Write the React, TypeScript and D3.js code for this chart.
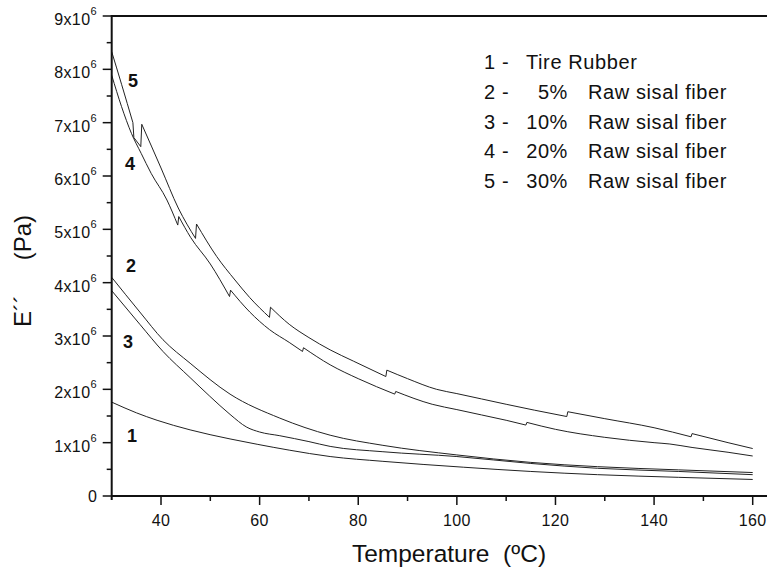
import React from "react";
import * as d3 from "d3";

// ---------- data (E'' in units of 1e6 Pa, temperature in ºC) ----------
const tireRubber: [number, number][] = [
  [30, 1.76], [35, 1.56], [39.2, 1.42], [45.9, 1.24], [54, 1.07], [59.5, 0.97],
  [66, 0.86], [74.3, 0.74], [85, 0.65], [101.3, 0.54], [115, 0.46], [128.5, 0.40],
  [145, 0.35], [160, 0.31],
];
const sisal5: [number, number][] = [
  [30, 4.10], [35.7, 3.45], [40.4, 2.93], [45.9, 2.49], [54, 1.91], [64.1, 1.46],
  [74.3, 1.14], [85, 0.95], [100, 0.77], [115, 0.63], [128.5, 0.55], [145, 0.49],
  [160, 0.44],
];
const sisal10: [number, number][] = [
  [30, 3.85], [35.7, 3.22], [40.4, 2.71], [45.9, 2.22], [49.9, 1.87], [54, 1.53],
  [57.4, 1.29], [60, 1.20], [64.1, 1.13], [70, 1.02], [74.3, 0.93], [85, 0.83],
  [100, 0.74], [115, 0.61], [128.5, 0.52], [145, 0.46], [160, 0.40],
];
const sisal20: [number, number][] = [
  [30, 7.89], [32, 7.30], [34, 6.80], [36, 6.42], [38, 6.05], [41.2, 5.55],
  [43.4, 5.08], [43.6, 5.24], [46, 4.85], [50, 4.35], [53.9, 3.74], [54.1, 3.86],
  [58, 3.45], [62, 3.12], [66, 2.88], [68.7, 2.71], [68.9, 2.78], [74.3, 2.46],
  [80, 2.20], [87.4, 1.91], [87.6, 1.96], [95, 1.72], [100, 1.62], [105, 1.52],
  [110, 1.42], [114, 1.33], [114.2, 1.38], [120, 1.25], [130, 1.10], [140, 1.00],
  [143.2, 0.975], [147.7, 0.91], [155, 0.82], [160, 0.75],
];
const sisal30: [number, number][] = [
  [30, 8.33], [32, 7.72], [34.3, 7.00], [34.5, 6.72], [35.9, 6.55], [36.1, 6.97],
  [40, 6.15], [43.5, 5.40], [47.0, 4.83], [47.2, 5.10], [51.3, 4.49], [55, 4.05],
  [58, 3.72], [62.0, 3.35], [62.2, 3.54], [66, 3.22], [70, 2.97], [74.3, 2.74],
  [79, 2.53], [85.6, 2.24], [85.8, 2.36], [90, 2.20], [95.9, 2.00], [100, 1.92],
  [105, 1.82], [110, 1.72], [115.7, 1.61], [122.3, 1.49], [122.5, 1.58],
  [130, 1.45], [140, 1.28], [147.5, 1.11], [147.7, 1.17], [155, 1.00], [160, 0.89],
];
const allSeries = [tireRubber, sisal5, sisal10, sisal20, sisal30];

// curve number labels: text, temperature, E'' (1e6 Pa)
const curveLabelText = ["5", "4", "2", "3", "1"];
const curveLabelT = [33.3, 32.7, 32.9, 32.3, 33.1];
const curveLabelE = [7.67, 6.11, 4.2, 2.78, 1.01];

const xTicks = [40, 60, 80, 100, 120, 140, 160];
const xMinor = [50, 70, 90, 110, 130, 150];
const yTicks = [0, 1, 2, 3, 4, 5, 6, 7, 8, 9];
const yMinor = [0.5, 1.5, 2.5, 3.5, 4.5, 5.5, 6.5, 7.5, 8.5];

const legendNum = ["1 -", "2 -", "3 -", "4 -", "5 -"];
const legendPct = ["", "5%", "10%", "20%", "30%"];
const legendText = ["Tire Rubber", "Raw sisal fiber", "Raw sisal fiber", "Raw sisal fiber", "Raw sisal fiber"];

const X_DOMAIN: [number, number] = [30, 162.9];
const Y_DOMAIN: [number, number] = [0, 9];

// split a series into smooth pieces at abrupt jumps (points closer than 0.5 ºC)
function splitAtJumps(s: [number, number][]): [number, number][][] {
  const parts: [number, number][][] = [[s[0]]];
  for (let i = 1; i < s.length; i++) {
    if (s[i][0] - s[i - 1][0] < 0.5) parts.push([s[i]]);
    else parts[parts.length - 1].push(s[i]);
  }
  return parts;
}

export default function App() {
  const W = 767, H = 573;
  const left = 111.7, right = 767, top = 16, bottom = 496;
  const x = d3.scaleLinear().domain(X_DOMAIN).range([left, right]);
  const y = d3.scaleLinear().domain(Y_DOMAIN).range([bottom, top]);
  const smooth = d3
    .line<[number, number]>()
    .x((d) => x(d[0]))
    .y((d) => y(d[1]))
    .curve(d3.curveMonotoneX);
  const straight = d3
    .line<[number, number]>()
    .x((d) => x(d[0]))
    .y((d) => y(d[1]));

  const buildPath = (s: [number, number][]) => {
    const parts = splitAtJumps(s);
    let d = "";
    parts.forEach((p, i) => {
      if (p.length > 1) d += smooth(p) || "";
      if (i < parts.length - 1) {
        d += straight([p[p.length - 1], parts[i + 1][0]]) || "";
      }
    });
    return d;
  };

  const font = "'Liberation Sans', Arial, Helvetica, sans-serif";
  const ink = "#111";

  return (
    <svg
      width={W}
      height={H}
      viewBox={`0 0 ${W} ${H}`}
      style={{ position: "absolute", left: 0, top: 0, background: "#fff" }}
      fontFamily={font}
    >
      <rect x={0} y={0} width={W} height={H} fill="#fff" />
      {/* curves */}
      <g fill="none" stroke="#222" strokeWidth={1} strokeLinejoin="miter">
        {allSeries.map((s, i) => (
          <path key={i} d={buildPath(s)} />
        ))}
      </g>

      {/* frame lines */}
      <line x1={left} x2={right} y1={top} y2={top} stroke={ink} strokeWidth={2} />
      <line x1={left} x2={right} y1={bottom} y2={bottom} stroke={ink} strokeWidth={2} />
      <line x1={left} x2={left} y1={top - 1} y2={bottom + 4} stroke={ink} strokeWidth={2} />

      {/* y ticks */}
      {yTicks.map((v) => (
        <line key={"yt" + v} x1={left - 9} x2={left} y1={y(v)} y2={y(v)} stroke={ink} strokeWidth={1.5} />
      ))}
      {yMinor.map((v) => (
        <line key={"ym" + v} x1={left - 5} x2={left} y1={y(v)} y2={y(v)} stroke={ink} strokeWidth={1.5} />
      ))}
      {yTicks.map((v) =>
        v === 0 ? (
          <text key={"yl" + v} x={97} y={y(v) + 5.5} textAnchor="end" fontSize={16} fill={ink}>
            0
          </text>
        ) : (
          <text key={"yl" + v} x={97} y={y(v) + 9} textAnchor="end" fontSize={16} fill={ink} letterSpacing={0.4}>
            {`${v}x10`}
            <tspan fontSize={11} dy={-10}>6</tspan>
          </text>
        )
      )}

      {/* x ticks */}
      {xTicks.map((v) => (
        <line key={"xt" + v} x1={x(v)} x2={x(v)} y1={bottom} y2={bottom + 9} stroke={ink} strokeWidth={1.5} />
      ))}
      {xMinor.map((v) => (
        <line key={"xm" + v} x1={x(v)} x2={x(v)} y1={bottom} y2={bottom + 5} stroke={ink} strokeWidth={1.5} />
      ))}
      {xTicks.map((v) => (
        <text key={"xl" + v} x={x(v)} y={526} textAnchor="middle" fontSize={16} fill={ink} letterSpacing={0.4}>
          {v}
        </text>
      ))}

      {/* axis titles */}
      <text x={449} y={562} textAnchor="middle" fontSize={24.5} fill={ink} xmlSpace="preserve" style={{ whiteSpace: "pre" }}>
        {"Temperature  (ºC)"}
      </text>
      <text transform="translate(31,327) rotate(-90)" fontSize={24} fill={ink} textAnchor="start">
        E´´
      </text>
      <text transform="translate(31,215) rotate(-90)" fontSize={24} fill={ink} textAnchor="end">
        (Pa)
      </text>

      {/* curve labels */}
      {curveLabelText.map((t, i) => (
        <text key={"cl" + i} x={x(curveLabelT[i])} y={y(curveLabelE[i])} fontSize={18} fontWeight="bold" fill={ink}>
          {t}
        </text>
      ))}

      {/* legend */}
      {legendNum.map((n, i) => {
        const by = 69 + i * 29.8;
        return (
          <g key={"lg" + i} fontSize={20} fill={ink} letterSpacing={0.6}>
            <text x={484} y={by}>{n}</text>
            {i === 0 ? (
              <text x={526} y={by}>{legendText[i]}</text>
            ) : (
              <>
                <text x={568} y={by} textAnchor="end">{legendPct[i]}</text>
                <text x={588} y={by}>{legendText[i]}</text>
              </>
            )}
          </g>
        );
      })}
    </svg>
  );
}
